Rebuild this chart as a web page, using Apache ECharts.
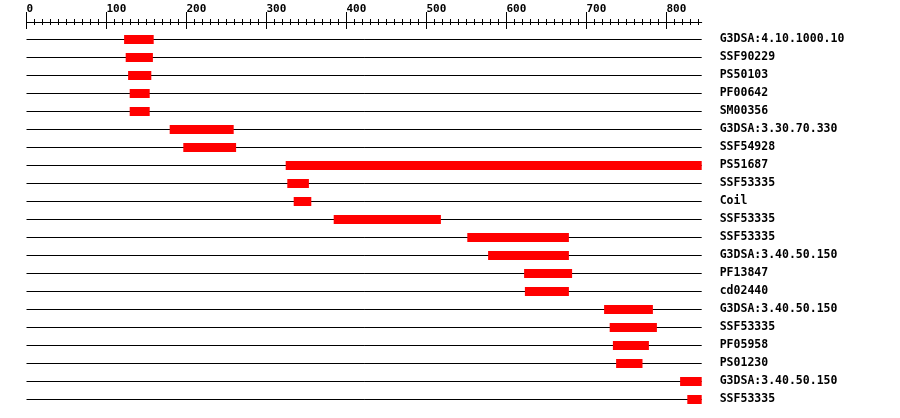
<!DOCTYPE html>
<html>
<head>
<meta charset="utf-8">
<script src="https://cdn.jsdelivr.net/npm/echarts@6/dist/echarts.min.js"></script>
<style>html,body{margin:0;padding:0;background:#fff;}#c{width:900px;height:418px;}</style>
</head>
<body>
<div id="c"></div>
<script>
const seqLength = 844;
const categories = ['G3DSA:4.10.1000.10','SSF90229','PS50103','PF00642','SM00356','G3DSA:3.30.70.330','SSF54928','PS51687','SSF53335','Coil','SSF53335','SSF53335','G3DSA:3.40.50.150','PF13847','cd02440','G3DSA:3.40.50.150','SSF53335','PF05958','PS01230','G3DSA:3.40.50.150','SSF53335'];
const starts = [122,124,127,129,129,179,196,324,326,334,384,551,577,622,623,722,729,733,737,817,826];
const ends   = [159,158,156,154,154,259,262,844,353,356,518,678,678,682,678,783,788,778,770,844,844];
const majorTicks = [0,100,200,300,400,500,600,700,800];
const minorTicks = [];
majorTicks.forEach(function(t){ for (let k = 0; k < 10; k++) { const v = t + k*10; if (v <= seqLength) minorTicks.push(v); } });

const font = '"DejaVu Sans Mono", monospace';
const chart = echarts.init(document.getElementById('c'), null, {renderer:'canvas'});

function xAx(opts) {
  return Object.assign({
    type:'value', position:'top', min:0, max:seqLength, offset:17,
    splitLine:{show:false}, axisLine:{show:false}, axisLabel:{show:false}, axisTick:{show:false}
  }, opts);
}

const option = {
  animation:false,
  backgroundColor:'#fff',
  grid:{left:26.5, right:198.3, top:39, bottom:19, containLabel:false},
  xAxis:[
    xAx({axisLine:{show:true, lineStyle:{color:'#000', width:1}},
         axisTick:{show:true, customValues:majorTicks, length:10, lineStyle:{color:'#000'}},
         axisLabel:{show:true, customValues:majorTicks, align:'left', margin:7, color:'#000',
                    fontFamily:font, fontWeight:'bold', fontSize:11}}),
    xAx({axisTick:{show:true, inside:true, customValues:majorTicks, length:7, lineStyle:{color:'#000'}}}),
    xAx({axisTick:{show:true, customValues:minorTicks, length:3, lineStyle:{color:'#000'}}}),
    xAx({axisTick:{show:true, inside:true, customValues:minorTicks, length:3, lineStyle:{color:'#000'}}})
  ],
  yAxis:{
    type:'category', data:categories, inverse:true, boundaryGap:false, position:'right',
    axisLine:{show:false}, axisTick:{show:false},
    splitLine:{show:true, lineStyle:{color:'#000', width:1}},
    axisLabel:{margin:18, color:'#000', fontFamily:font, fontWeight:'bold', fontSize:11.5, align:'left',
               padding:[2,0,0,0]}
  },
  series:[{
    type:'custom',
    xAxisIndex:0, yAxisIndex:0,
    data: categories.map(function(c,i){ return [i, starts[i], ends[i]]; }),
    encode:{y:0, x:[1,2]},
    renderItem:function(params, api){
      const row = api.value(0);
      const p1 = api.coord([api.value(1), row]);
      const p2 = api.coord([api.value(2), row]);
      return {type:'rect', shape:{x:p1[0], y:p1[1]-4, width:p2[0]-p1[0], height:9},
              style:{fill:'#ff0000'}};
    }
  }]
};
chart.setOption(option);
</script>
</body>
</html>
